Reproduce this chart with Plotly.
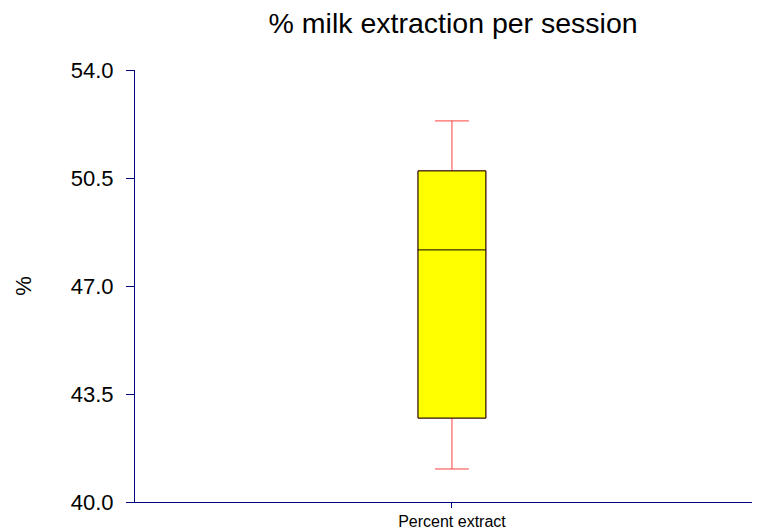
import plotly.graph_objects as go

categories = ["Percent extract"]
lower_whisker = [41.07]
q1_values = [42.72]
median_values = [48.17]
q3_values = [50.73]
upper_whisker = [52.35]
y_ticks = [40.0, 43.5, 47.0, 50.5, 54.0]

FONT = "Arial, 'Liberation Sans', sans-serif"
NAVY = "#000080"

# page body has an 8px default margin; the figure is sized to fit the window
W, H = 752, 523

fig = go.Figure()
# whiskers (red)
fig.add_trace(go.Box(
    x=categories, q1=q1_values, median=median_values, q3=q3_values,
    lowerfence=lower_whisker, upperfence=upper_whisker,
    fillcolor="#FFFF00", line=dict(color="#FF4040", width=1),
    width=0.107, whiskerwidth=0.5, boxpoints=False, hoverinfo="skip",
    showlegend=False))
# box (black outline)
fig.add_trace(go.Box(
    x=categories, q1=q1_values, median=median_values, q3=q3_values,
    lowerfence=q1_values, upperfence=q3_values,
    fillcolor="#FFFF00", line=dict(color="#000000", width=1),
    width=0.107, whiskerwidth=0, boxpoints=False,
    showlegend=False))

fig.update_layout(
    width=W, height=H,
    margin=dict(l=127, r=0, t=62, b=29),
    paper_bgcolor="white", plot_bgcolor="white",
    boxmode="overlay",
    title=dict(text="% milk extraction per session", x=0.509, xref="paper",
               xanchor="center", y=1 - 15 / H, yref="container", yanchor="middle",
               font=dict(family=FONT, size=28.5, color="black")),
    font=dict(family=FONT, color="black"),
)
fig.update_xaxes(
    type="category", range=[-0.5, 0.486], automargin=False,
    showline=True, linecolor=NAVY, linewidth=1,
    ticks="outside", ticklen=5, tickcolor=NAVY,
    tickfont=dict(family=FONT, size=16, color="black"),
    showgrid=False, zeroline=False, fixedrange=True)
fig.update_yaxes(
    range=[40, 54], tickvals=y_ticks, tickformat=".1f", automargin=False,
    showline=True, linecolor=NAVY, linewidth=1,
    ticks="outside", ticklen=8, tickcolor=NAVY,
    tickfont=dict(family=FONT, size=22, color="black"),
    ticklabelstandoff=8,
    title=dict(text="%", font=dict(family=FONT, size=22, color="black"), standoff=33),
    showgrid=False, zeroline=False, fixedrange=True)

fig.write_html("out.html")
